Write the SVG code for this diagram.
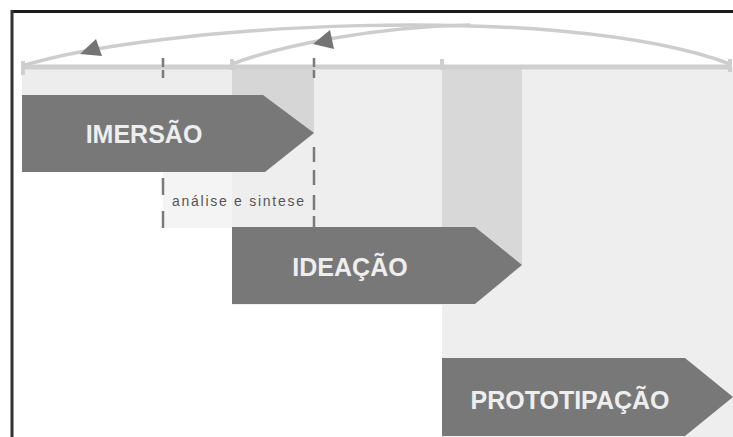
<svg xmlns="http://www.w3.org/2000/svg" width="733" height="437" viewBox="0 0 733 437">
<style>
.phase{fill:#787878}
.lbl{font-family:"Liberation Sans",Arial,sans-serif;font-weight:bold;font-size:25px;fill:#eeeeee}
.small{font-family:"Liberation Sans",Arial,sans-serif;font-size:14px;fill:#555555}
.arc{fill:none;stroke:#cdcdcd;stroke-width:3.5}
.dash{stroke:#7a7a7a;stroke-width:2.5;fill:none}
.tick{stroke:#cfcfcf;stroke-width:4}
.head{fill:#747474}
</style>
<rect x="0" y="0" width="733" height="437" fill="#ffffff"/>
<!-- frame -->
<g id="frame">
<line x1="11" y1="11.5" x2="733" y2="11.5" stroke="#1a1a1a" stroke-width="3"/>
<line x1="12" y1="10" x2="12" y2="437" stroke="#333333" stroke-width="3"/>
</g>
<!-- backgrounds -->
<g id="backgrounds">
<rect x="22" y="67" width="292" height="105" fill="#ededed"/>
<rect x="163" y="172" width="151" height="56" fill="#f4f4f4"/>
<rect x="232" y="67" width="290" height="238" fill="#eeeeee"/>
<rect x="442" y="67" width="291" height="370" fill="#eeeeee"/>
<rect x="232" y="67" width="82" height="66" fill="#d6d6d6"/>
<rect x="442" y="67" width="80" height="198" fill="#d8d8d8"/>
</g>
<!-- timeline axis -->
<g id="axis">
<line x1="22" y1="67" x2="731" y2="67" stroke="#cfcfcf" stroke-width="5"/>
<line class="tick" x1="23" y1="61" x2="23" y2="75"/>
<line class="tick" x1="232" y1="59" x2="232" y2="70"/>
<line class="tick" x1="442" y1="59" x2="442" y2="70"/>
<line class="tick" x1="730" y1="59" x2="730" y2="72"/>
</g>
<!-- connectors -->
<g id="connectors">
<path class="arc" d="M22,66 C150,25 560,0 730,64"/>
<path class="arc" d="M232,64 C280,46 370,27 470,25"/>
<polygon class="head" points="80,54 96,39 102,56"/>
<polygon class="head" points="313,44 330,30 334,49"/>
<path class="dash" d="M163,58 V67 M163,70 V78 M163,178 V195 M163,211 V228"/>
<path class="dash" d="M314,58 V67 M314,70 V78 M314,147 V162 M314,170 V185 M314,195 V210 M314,216 V228"/>
</g>
<!-- nodes -->
<g id="imersao">
<polygon class="phase" points="22,95 263,95 314,133 265,172 22,172"/>
<text class="lbl" x="144" y="143" text-anchor="middle">IMERSÃO</text>
</g>
<g id="analise">
<text class="small" x="172" y="206" textLength="132" lengthAdjust="spacing">análise e sintese</text>
</g>
<g id="ideacao">
<polygon class="phase" points="232,227 475,227 522,265 475,304 232,304"/>
<text class="lbl" x="350" y="276" text-anchor="middle">IDEAÇÃO</text>
</g>
<g id="prototipacao">
<polygon class="phase" points="442,358 685,358 733,397 685,436 442,436"/>
<text class="lbl" x="570" y="409" text-anchor="middle">PROTOTIPAÇÃO</text>
</g>
</svg>
